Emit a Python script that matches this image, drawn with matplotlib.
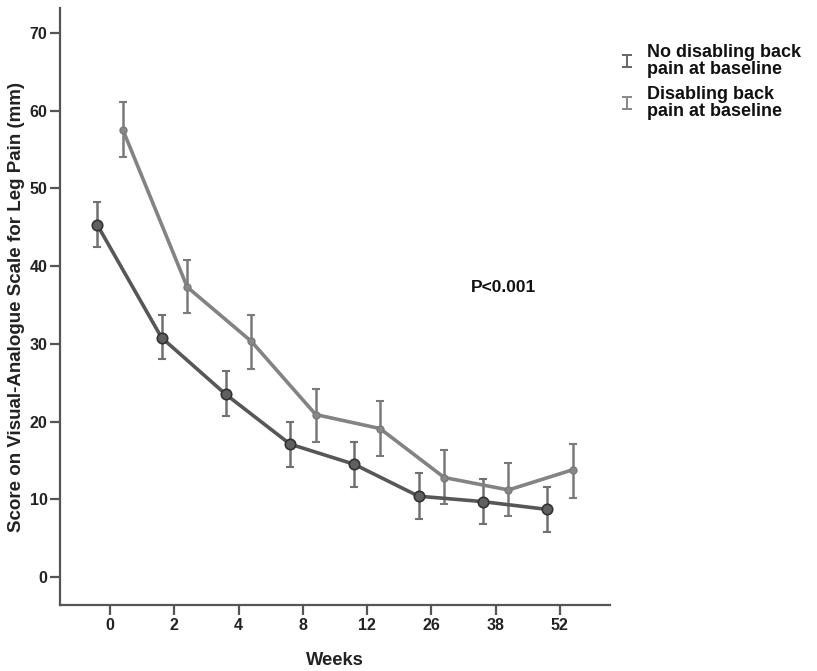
import matplotlib
matplotlib.use("Agg")
import matplotlib.pyplot as plt
from matplotlib.lines import Line2D
from matplotlib.path import Path
import numpy as np

weeks = ["0", "2", "4", "8", "12", "26", "38", "52"]
no_dis_mean = [45.3, 30.8, 23.5, 17.1, 14.5, 10.4, 9.7, 8.7]
no_dis_hi = [48.3, 33.7, 26.5, 20.0, 17.4, 13.4, 12.6, 11.6]
no_dis_lo = [42.4, 28.0, 20.7, 14.2, 11.6, 7.5, 6.8, 5.8]
dis_mean = [57.5, 37.3, 30.3, 20.9, 19.1, 12.8, 11.2, 13.8]
dis_hi = [61.1, 40.8, 33.7, 24.2, 22.6, 16.3, 14.7, 17.1]
dis_lo = [54.0, 34.0, 26.8, 17.4, 15.6, 9.4, 7.8, 10.2]
labels = ["No disabling back\npain at baseline", "Disabling back\npain at baseline"]

plt.rcParams['font.family'] = ['Liberation Sans', 'DejaVu Sans']

fig = plt.figure(figsize=(8.17, 6.71), dpi=100)
ax = fig.add_axes([60/817, 1-605/671, 550/817, 597/671])

x = np.arange(len(weeks))
off = 0.2
c1_line = "#575757"
c2_line = "#838383"

m1 = np.array(no_dis_mean)
m2 = np.array(dis_mean)
e1 = [m1 - np.array(no_dis_lo), np.array(no_dis_hi) - m1]
e2 = [m2 - np.array(dis_lo), np.array(dis_hi) - m2]

ax.errorbar(x + off, m2, yerr=e2, fmt='none', ecolor="#7a7a7a", elinewidth=1.8,
            capsize=3, capthick=1.5, zorder=2)
ax.plot(x + off, m2, color=c2_line, lw=2.6, marker='o', ms=5,
        mfc="#888888", mec="#7a7a7a", zorder=3)
ax.errorbar(x - off, m1, yerr=e1, fmt='none', ecolor="#707070", elinewidth=1.8,
            capsize=3, capthick=1.5, zorder=2)
ax.plot(x - off, m1, color=c1_line, lw=2.6, marker='o', ms=7.5,
        mfc="#606060", mec="#333333", mew=1.2, zorder=4)

ax.set_xlim(-0.78, 7.78)
ax.set_ylim(-3.6, 73.2)
ax.set_yticks(range(0, 71, 10))
ax.set_xticks(x)
ax.set_xticklabels(weeks)
for s in ['top', 'right']:
    ax.spines[s].set_visible(False)
for s in ['left', 'bottom']:
    ax.spines[s].set_color("#555555")
    ax.spines[s].set_linewidth(1.6)
ax.tick_params(axis='both', direction='out', length=7, width=1.6, color="#555555",
               labelsize=11.5, pad=2)
for lab in ax.get_xticklabels() + ax.get_yticklabels():
    lab.set_fontweight('bold')
    lab.set_color("#222222")

ax.set_xlabel("Weeks", fontsize=13.2, fontweight='bold', color="#222222", labelpad=14)
ax.set_ylabel("Score on Visual-Analogue Scale for Leg Pain (mm)", fontsize=13.5,
              fontweight='bold', color="#222222", labelpad=3)

ax.text(6.12, 37.3, "P<0.001", fontsize=12.5, fontweight='bold', color="#111111",
        ha='center', va='center')

# legend drawn manually
cap_path = Path([(-0.8, 1), (0.8, 1), (0, 1), (0, -1), (-0.8, -1), (0.8, -1)],
                [Path.MOVETO, Path.LINETO, Path.MOVETO, Path.LINETO, Path.MOVETO, Path.LINETO])
leg_colors = ["#666666", "#888888"]
leg_y = [61, 103]
for lab, col, yy in zip(labels, leg_colors, leg_y):
    fy = 1 - yy/671
    fig.add_artist(Line2D([627/817], [fy], transform=fig.transFigure, ls='none',
                          marker=cap_path, ms=9, mec=col, mfc='none', mew=1.4))
    fig.text(647/817, fy, lab, fontsize=13, fontweight='bold', color="#111111",
             ha='left', va='center', linespacing=0.95)

fig.savefig("out.png", dpi=100)
